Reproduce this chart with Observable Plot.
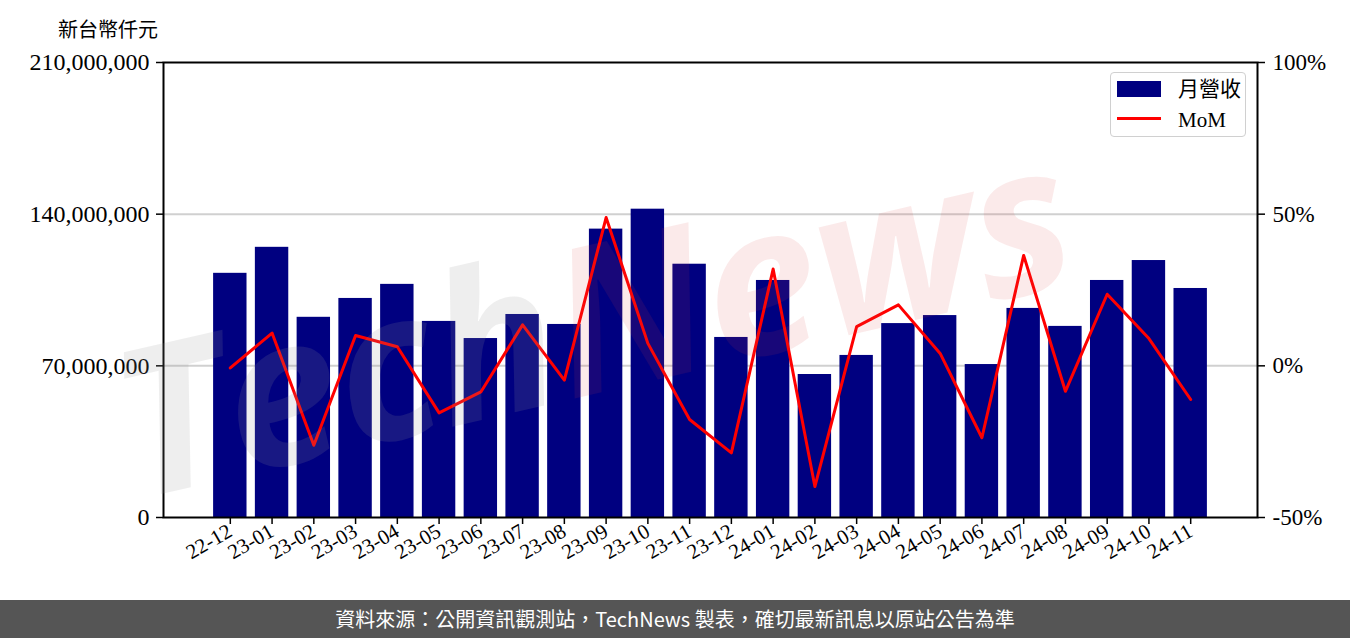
<!DOCTYPE html>
<html><head><meta charset="utf-8">
<script src="https://cdn.jsdelivr.net/npm/d3@7"></script>
<script src="https://cdn.jsdelivr.net/npm/@observablehq/plot@0.6"></script>
<style>
body{margin:0;width:1350px;height:638px;position:relative;overflow:hidden;background:#fff;font-family:"Liberation Serif",serif}
#title{position:absolute;left:58px;top:14px;font-size:20px;font-family:"Liberation Serif","Noto Sans CJK TC",serif;color:#000}
#chart{position:absolute;left:0;top:0}
#legend{position:absolute;left:1110px;top:72px;width:134px;height:63px;border:1.5px solid #d0d0d0;border-radius:4px;background:rgba(255,255,255,0.85);font-size:21px;font-family:"Liberation Serif","Noto Sans CJK TC",serif}
#legend .sw{position:absolute;left:6px;top:8px;width:44px;height:16px;background:#000080}
#legend .ln{position:absolute;left:6px;top:44px;width:44px;height:3px;background:#ff0000}
#legend .t1{position:absolute;left:67px;top:2px;line-height:28px}
#legend .t2{position:absolute;left:67px;top:33px;line-height:28px}
#wm{position:absolute;left:0;top:0;pointer-events:none}
#footer{position:absolute;left:0;top:600px;width:1350px;height:38px;background:#555555;color:#fff;font-family:"Noto Sans CJK TC","Noto Sans",sans-serif;font-size:20px;text-align:center;line-height:38px}
</style></head>
<body>
<div id="chart"></div>
<svg id="wm" width="1350" height="600">
  <text transform="translate(135,500) rotate(-13)" font-family="Open Sans" font-style="italic" font-weight="700" font-size="205" letter-spacing="0"><tspan fill="rgb(150,150,150)" fill-opacity="0.16">Tech</tspan><tspan fill="rgb(220,60,60)" fill-opacity="0.11">News</tspan></text>
</svg>
<div id="title">新台幣仟元</div>
<div id="legend"><div class="sw"></div><div class="t1">月營收</div><div class="ln"></div><div class="t2">MoM</div></div>
<div id="footer">資料來源：公開資訊觀測站，TechNews 製表，確切最新訊息以原站公告為準</div>
<script>
const months = ["22-12","23-01","23-02","23-03","23-04","23-05","23-06","23-07","23-08","23-09","23-10","23-11","23-12","24-01","24-02","24-03","24-04","24-05","24-06","24-07","24-08","24-09","24-10","24-11"];
const revenue = [112.7e6,124.7e6,92.4e6,101.1e6,107.6e6,90.5e6,82.6e6,93.7e6,89.1e6,133.1e6,142.3e6,116.9e6,83.1e6,109.4e6,66.0e6,74.8e6,89.5e6,93.2e6,70.6e6,96.5e6,88.2e6,109.4e6,118.6e6,105.7e6];
const mom = [-0.7,10.8,-26.2,10.0,6.3,-15.5,-8.6,13.5,-4.7,48.9,7.4,-17.7,-28.7,31.9,-39.8,12.9,20.1,4.1,-23.7,36.4,-8.4,23.6,9.0,-11.1];
const leftTicks = [0,70e6,140e6,210e6];
const rightTicks = [-50,0,50,100];
const gridTicks = [70e6,140e6];

const yMax = 210e6, pMin = -50, pMax = 100;
const momToY = p => (p - pMin) / (pMax - pMin) * yMax;
const yToMom = v => v / yMax * (pMax - pMin) + pMin;

const data = months.map((m,i)=>({month:m, revenue:revenue[i], mom:mom[i]}));

const chart = Plot.plot({
  width:1350, height:600,
  marginTop:62, marginBottom:83, marginLeft:163, marginRight:93,
  style:{fontFamily:"'Liberation Serif', serif", fontSize:"23px", color:"#000", background:"transparent"},
  x:{domain:months, paddingInner:0.2, paddingOuter:1.2, align:0.5, round:false},
  y:{domain:[0,yMax]},
  marks:[
    Plot.ruleY(gridTicks,{stroke:"#d0d0d0", strokeWidth:2}),
    Plot.barY(data,{x:"month", y:"revenue", fill:"#000080"}),
    Plot.lineY(data,{x:"month", y:d=>momToY(d.mom), stroke:"#ff0000", strokeWidth:3}),
    Plot.frame({stroke:"#000", strokeWidth:2}),
    Plot.axisY(leftTicks,{anchor:"left", tickFormat:d3.format(","), tickSize:7, tickPadding:7, strokeWidth:1.5, label:null, fontSize:24}),
    Plot.axisY(rightTicks.map(momToY),{anchor:"right", tickFormat:v=>Math.round(yToMom(v))+"%", tickSize:7, tickPadding:8, strokeWidth:1.5, label:null, fontSize:23}),
    Plot.axisX({tickRotate:-30, tickSize:7, tickPadding:5, strokeWidth:1.5, label:null, fontSize:21})
  ]
});
document.getElementById("chart").appendChild(chart);
</script>
</body></html>
